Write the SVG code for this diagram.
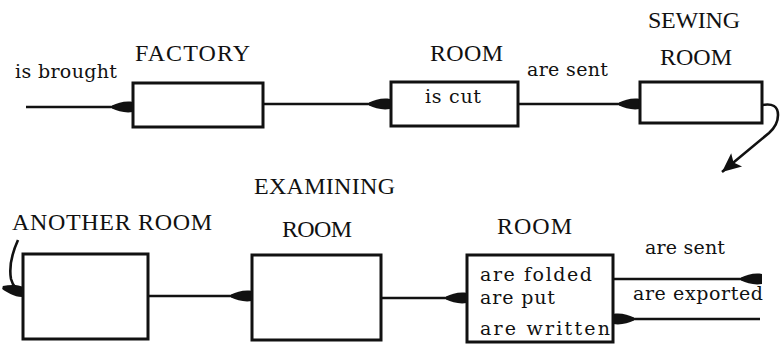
<svg xmlns="http://www.w3.org/2000/svg" width="780" height="344" viewBox="0 0 780 344">
<style>
.box{fill:#fff;stroke:#111;stroke-width:3}
.ln{fill:none;stroke:#111;stroke-width:2.6}
text{fill:#111}
.cap{font-family:"Liberation Serif","Times New Roman",serif;font-size:24px}
.lc{font-family:"DejaVu Serif","Liberation Serif",serif;font-size:19px}
</style>
<defs>
<marker id="blob" markerUnits="userSpaceOnUse" markerWidth="24" markerHeight="14" viewBox="-22 -7 24 14" refX="0" refY="0" orient="auto">
<path d="M-21,-1.5 C-15,-4 -8,-6.5 0,-5 L0,5 C-8,6.5 -15,4 -21,1.5 Z" fill="#111"/>
</marker>
<marker id="tri" markerUnits="userSpaceOnUse" markerWidth="24" markerHeight="20" viewBox="-20 -10 22 20" refX="0" refY="0" orient="auto">
<path d="M0,0 L-19,-8.5 L-15,0 L-19,8.5 Z" fill="#111"/>
</marker>
</defs>
<rect width="780" height="344" fill="#fff"/>
<g id="connectors">
<path class="ln" d="M26,107 L133,107" marker-end="url(#blob)"/>
<text class="lc" x="15" y="78" textLength="102" lengthAdjust="spacing">is brought</text>
<path class="ln" d="M263,104 L390,104" marker-end="url(#blob)"/>
<path class="ln" d="M518,104 L640,104" marker-end="url(#blob)"/>
<text class="lc" x="527" y="76" textLength="81" lengthAdjust="spacing">are sent</text>
<path class="ln" d="M762,105 Q778,102 778,115 Q778,125 769,133 L722,172" marker-end="url(#tri)"/>
<path class="ln" d="M18,240 Q8,262 11,279 Q14,290 23,292" marker-end="url(#blob)"/>
<path class="ln" d="M148,296 L252,296" marker-end="url(#blob)"/>
<path class="ln" d="M382,298 L467,298" marker-end="url(#blob)"/>
<path class="ln" d="M613,279 L762,279" marker-end="url(#blob)"/>
<text class="lc" x="645" y="254" textLength="80" lengthAdjust="spacing">are sent</text>
<text class="lc" x="633" y="300" textLength="130" lengthAdjust="spacing">are exported</text>
<path class="ln" d="M760,319 L613,319" marker-end="url(#blob)"/>
</g>
<g id="factory">
<rect class="box" x="133" y="83" width="130" height="44"/>
<text class="cap" x="135" y="61" textLength="115" lengthAdjust="spacing">FACTORY</text>
</g>
<g id="cutting-room">
<rect class="box" x="391" y="82" width="127" height="44"/>
<text class="cap" x="430" y="61" textLength="73" lengthAdjust="spacing">ROOM</text>
<text class="lc" x="425" y="103" textLength="56" lengthAdjust="spacing">is cut</text>
</g>
<g id="sewing-room">
<rect class="box" x="640" y="82" width="122" height="41"/>
<text class="cap" x="648" y="28" textLength="92" lengthAdjust="spacing">SEWING</text>
<text class="cap" x="660" y="65" textLength="72" lengthAdjust="spacing">ROOM</text>
</g>
<g id="another-room">
<rect class="box" x="23" y="254" width="125" height="85"/>
<text class="cap" x="12" y="230" textLength="200" lengthAdjust="spacing">ANOTHER ROOM</text>
</g>
<g id="examining-room">
<rect class="box" x="252" y="255" width="129" height="85"/>
<text class="cap" x="254" y="194" textLength="141" lengthAdjust="spacing">EXAMINING</text>
<text class="cap" x="282" y="237" textLength="70" lengthAdjust="spacing">ROOM</text>
</g>
<g id="packing-room">
<rect class="box" x="467" y="255" width="146" height="87"/>
<text class="cap" x="497" y="234" textLength="75" lengthAdjust="spacing">ROOM</text>
<text class="lc" x="480" y="281" textLength="112" lengthAdjust="spacing">are folded</text>
<text class="lc" x="480" y="304" textLength="75" lengthAdjust="spacing">are put</text>
<text class="lc" x="480" y="335" textLength="130" lengthAdjust="spacing">are written</text>
</g>
</svg>
